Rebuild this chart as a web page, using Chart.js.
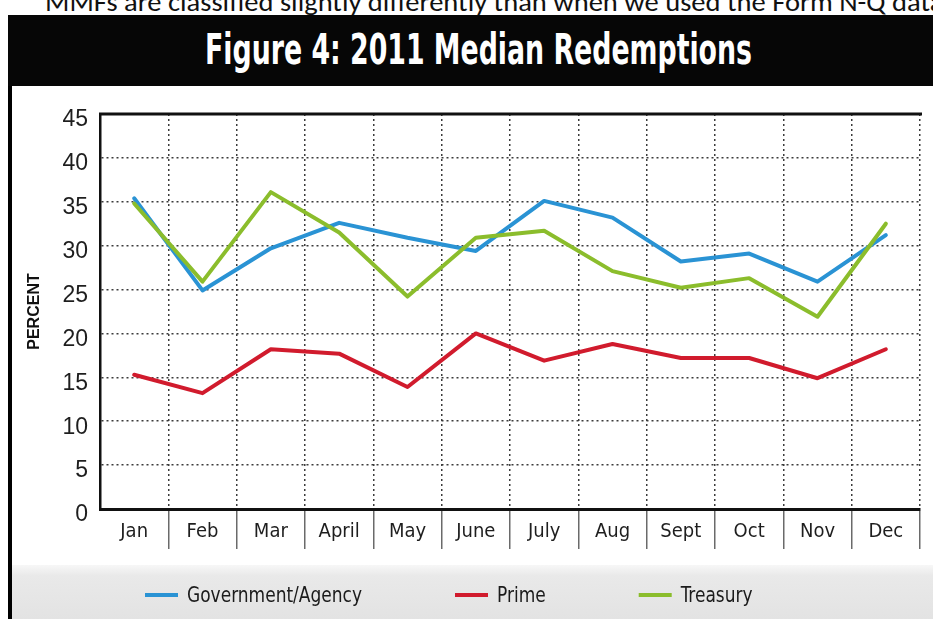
<!DOCTYPE html>
<html>
<head>
<meta charset="utf-8">
<title>Figure 4: 2011 Median Redemptions</title>
<script src="https://cdn.jsdelivr.net/npm/chart.js@4.4.1/dist/chart.umd.min.js"></script>
<style>
  html, body { margin: 0; padding: 0; background: #fff; }
  body { width: 933px; height: 619px; position: relative; overflow: hidden; }
  #lead {
    position: absolute; left: 45px; top: -15px; white-space: nowrap;
    font-family: Carlito, Lato, 'Open Sans', sans-serif; font-size: 26px; line-height: 34px;
    color: #111; transform-origin: 0 0;
  }
  #frame { position: absolute; left: 8px; top: 15px; width: 925px; height: 604px; background: #000; }
  #head { position: absolute; left: 8px; top: 15px; width: 925px; height: 71px; background: #060606; }
  #headline {
    position: absolute; left: 205px; top: 29px; white-space: nowrap;
    font-family: 'Liberation Sans Narrow', 'DejaVu Sans Condensed', 'Liberation Sans', sans-serif;
    font-weight: bold; font-size: 42px; line-height: 42px; color: #fff; transform-origin: 0 0;
  }
  #panel { position: absolute; left: 12px; top: 86px; width: 921px; height: 533px; background: #fff; }
  #chart { display: block; }
</style>
</head>
<body>
<div id="lead"><span id="leadPart">MMFs are classified slightly differently than when we used the Form N-Q dat</span>a</div>
<div id="frame"></div>
<div id="head"></div>
<div id="headline">Figure 4: 2011 Median Redemptions</div>
<div id="panel"><canvas id="chart" width="921" height="533"></canvas></div>
<script>
// Months on the category axis
const months = ['Jan', 'Feb', 'Mar', 'April', 'May', 'June', 'July', 'Aug', 'Sept', 'Oct', 'Nov', 'Dec'];

// Median redemptions, percent
const govAgency = [35.4, 24.9, 29.7, 32.6, 30.9, 29.4, 35.1, 33.2, 28.2, 29.1, 25.9, 31.2];
const prime     = [15.3, 13.2, 18.2, 17.7, 13.9, 20.0, 16.9, 18.8, 17.2, 17.2, 14.9, 18.2];
const treasury  = [34.8, 25.9, 36.1, 31.5, 24.2, 30.9, 31.7, 27.1, 25.2, 26.3, 21.9, 32.5];

// Value axis range and step
const yMin = 0;
const yMax = 45;
const yStep = 5;

const seriesNames = ['Government/Agency', 'Prime', 'Treasury'];

// Stretch the header text and the lead-in sentence to their boxes
(function fitText() {
  const head = document.getElementById('headline');
  head.style.transform = 'scaleX(' + (547 / head.offsetWidth) + ')';
  const part = document.getElementById('leadPart');
  document.getElementById('lead').style.transform = 'scaleX(' + (885 / part.offsetWidth) + ')';
})();

const NARROW = "'Liberation Sans Narrow', 'DejaVu Sans Condensed', 'Liberation Sans', sans-serif";
const CLEAR = 'rgba(0,0,0,0)';
const lastBoundary = months.length;

// Grey band behind the key, solid top rule of the plot and the key itself
const framePlugin = {
  id: 'frameDecor',
  beforeDraw(chart, args, opts) {
    const { ctx, width, height } = chart;
    ctx.save();
    const g = ctx.createLinearGradient(0, opts.bandTop, 0, height);
    g.addColorStop(0, '#f7f7f7');
    g.addColorStop(0.2, '#e9e9e9');
    g.addColorStop(1, '#e3e3e3');
    ctx.fillStyle = g;
    ctx.fillRect(0, opts.bandTop, width, height - opts.bandTop);
    ctx.restore();
  },
  afterDraw(chart, args, opts) {
    const { ctx, chartArea } = chart;
    ctx.save();
    ctx.strokeStyle = '#111';
    ctx.lineWidth = 3;
    ctx.beginPath();
    ctx.moveTo(chartArea.left - 1, chartArea.top);
    ctx.lineTo(chartArea.right + 2, chartArea.top);
    ctx.stroke();

    ctx.font = opts.font;
    ctx.textBaseline = 'middle';
    ctx.textAlign = 'left';
    let x = opts.x;
    chart.data.datasets.forEach(ds => {
      ctx.strokeStyle = ds.borderColor;
      ctx.lineWidth = 4;
      ctx.beginPath();
      ctx.moveTo(x, opts.y);
      ctx.lineTo(x + opts.lineLen, opts.y);
      ctx.stroke();
      x += opts.lineLen + opts.gap;
      ctx.save();
      ctx.translate(x, opts.y + 1);
      ctx.scale(opts.condense, 1);
      ctx.fillStyle = '#1b1b1b';
      ctx.fillText(ds.label, 0, 0);
      ctx.restore();
      x += ctx.measureText(ds.label).width * opts.condense + opts.spacing;
    });
    ctx.restore();
  }
};

new Chart(document.getElementById('chart'), {
  type: 'line',
  data: {
    labels: months,
    datasets: [
      { label: seriesNames[0], data: govAgency, borderColor: '#2a93d4', backgroundColor: '#2a93d4', order: 2 },
      { label: seriesNames[1], data: prime,     borderColor: '#d11b2d', backgroundColor: '#d11b2d', order: 1 },
      { label: seriesNames[2], data: treasury,  borderColor: '#8bbd2c', backgroundColor: '#8bbd2c', order: 0 }
    ]
  },
  plugins: [framePlugin],
  options: {
    responsive: false,
    animation: false,
    events: [],
    layout: { padding: { left: 0, right: 13, top: 28, bottom: 0 } },
    elements: {
      line: { tension: 0, borderWidth: 4, fill: false, borderJoinStyle: 'round', borderCapStyle: 'round' },
      point: { radius: 0, hoverRadius: 0 }
    },
    plugins: {
      legend: { display: false },
      tooltip: { enabled: false },
      frameDecor: {
        bandTop: 479,
        x: 133, y: 509, lineLen: 33, gap: 9, spacing: 93, condense: 0.86,
        font: "22px " + NARROW
      }
    },
    scales: {
      x: {
        type: 'category',
        offset: true,
        grid: {
          offset: true,
          drawOnChartArea: true,
          color: c => (c.index === 0 || c.index === lastBoundary) ? CLEAR : '#3c3c3c',
          lineWidth: 1.5,
          tickLength: 40,
          tickWidth: 1.5,
          tickColor: c => (c.index === 0 || c.index === lastBoundary) ? CLEAR : '#6a6a6a'
        },
        border: { display: true, color: '#111', width: 3, dash: [2, 3] },
        ticks: {
          autoSkip: false, maxRotation: 0, padding: -29,
          color: '#1e1e1e',
          font: { family: NARROW, size: 20 }
        },
        afterFit: s => { s.height = 110; }
      },
      y: {
        min: yMin,
        max: yMax,
        ticks: {
          stepSize: yStep, padding: 12, labelOffset: 6,
          color: '#1e1e1e',
          font: { family: "'Liberation Sans', Arial, sans-serif", size: 23 }
        },
        grid: {
          color: c => (c.tick && (c.tick.value === yMin || c.tick.value === yMax)) ? CLEAR : '#3c3c3c',
          lineWidth: 1.5,
          drawTicks: false
        },
        border: { display: true, color: '#111', width: 2.5, dash: [2, 3] },
        title: {
          display: true, text: 'PERCENT', color: '#111',
          font: { family: "'Liberation Sans', Arial, sans-serif", size: 16, weight: 'bold' },
          padding: { top: 13, bottom: 0 }
        },
        afterFit: s => { s.width = 88; }
      }
    }
  }
});
</script>
</body>
</html>
